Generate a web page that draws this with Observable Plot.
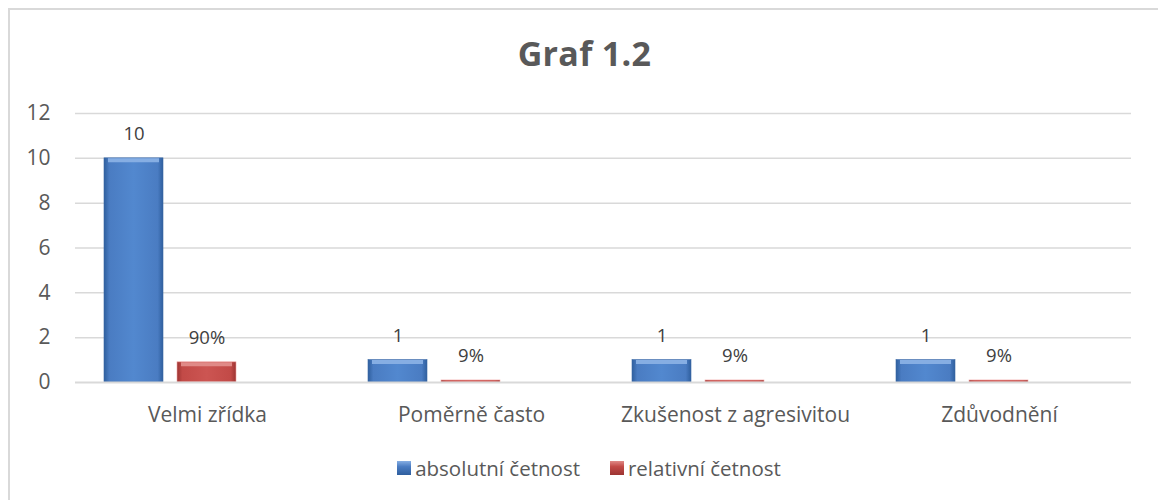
<!DOCTYPE html>
<html>
<head>
<meta charset="utf-8">
<script src="https://cdn.jsdelivr.net/npm/d3@7"></script>
<script src="https://cdn.jsdelivr.net/npm/@observablehq/plot@0.6"></script>
<style>
  html, body { margin: 0; padding: 0; background: #fff; }
  #wrap { position: relative; width: 1158px; height: 500px; overflow: hidden; font-family: "Open Sans", sans-serif; color: #595959; }
  #border { position: absolute; left: 8px; top: 8px; width: 1160px; height: 500px; border-left: 2px solid #d9d9d9; border-top: 2px solid #d9d9d9; box-sizing: border-box; }
  #title { position: absolute; left: 0; width: 1169px; top: 33px; text-align: center; font-size: 34px; line-height: 40px; font-weight: 700; color: #595959; letter-spacing: 0.3px; }
  #chart { position: absolute; left: 0; top: 0; }
  #legend { position: absolute; left: 0; width: 1178px; top: 455px; line-height: 24px; text-align: center; font-size: 20.5px; color: #595959; }
  .item { display: inline-flex; align-items: center; margin: 0 15px; }
  .sw { width: 14px; height: 14px; margin-right: 4px; display: inline-block; box-sizing: border-box; }
</style>
</head>
<body>
<div id="wrap">
  <div id="border"></div>
  <div id="title">Graf 1.2</div>
  <div id="chart"></div>
  <div id="legend"></div>
</div>
<script>
const categories = ["Velmi zřídka", "Poměrně často", "Zkušenost z agresivitou", "Zdůvodnění"];
const series = ["absolutní četnost", "relativní četnost"];
const absolutni = [10, 1, 1, 1];
const relativni = [0.9, 0.09, 0.09, 0.09];
const absLabels = ["10", "1", "1", "1"];
const relLabels = ["90%", "9%", "9%", "9%"];
const yTicks = [0, 2, 4, 6, 8, 10, 12];
const slots = [...series, "(prázdné)"]; // Excel cluster has an empty third slot

const data = [];
categories.forEach((c, i) => {
  data.push({category: c, series: series[0], value: absolutni[i], label: absLabels[i]});
  data.push({category: c, series: series[1], value: relativni[i], label: relLabels[i]});
});
const absData = data.filter(d => d.series === series[0]);
const relData = data.filter(d => d.series === series[1]);

function defs() {
  const ns = "http://www.w3.org/2000/svg";
  const g = document.createElementNS(ns, "defs");
  g.innerHTML = `
    <linearGradient id="gBlue" x1="0" x2="1" y1="0" y2="0">
      <stop offset="0" stop-color="#2f5f9e"/>
      <stop offset="0.09" stop-color="#4a7cc2"/>
      <stop offset="0.5" stop-color="#5288cf"/>
      <stop offset="0.91" stop-color="#4a7cc2"/>
      <stop offset="1" stop-color="#2f5f9e"/>
    </linearGradient>
    <linearGradient id="gRed" x1="0" x2="1" y1="0" y2="0">
      <stop offset="0" stop-color="#9c3432"/>
      <stop offset="0.09" stop-color="#c24a47"/>
      <stop offset="0.5" stop-color="#cc5552"/>
      <stop offset="0.91" stop-color="#c24a47"/>
      <stop offset="1" stop-color="#9c3432"/>
    </linearGradient>`;
  return g;
}

const chart = Plot.plot({
  width: 1158,
  height: 430,
  marginLeft: 73,
  marginRight: 26,
  marginTop: 113,
  marginBottom: 48,
  style: {fontFamily: "'Open Sans', sans-serif", fontSize: "21px", color: "#595959", background: "transparent"},
  fx: {domain: categories, padding: 0, axis: "bottom", tickSize: 0, tickPadding: 25, label: null},
  x: {domain: slots, paddingInner: 0.189, paddingOuter: 0.383, axis: null},
  y: {domain: [0, 12], ticks: yTicks, tickSize: 0, tickPadding: 25, label: null, tickFormat: d => String(d)},
  marks: [
    defs,
    Plot.ruleY(yTicks.filter(t => t > 0), {stroke: "#d9d9d9", strokeWidth: 1.5}),
    Plot.barY(absData, {fx: "category", x: "series", y: "value", fill: "url(#gBlue)", stroke: "#3a68a6", strokeWidth: 0.6}),
    Plot.tickY(absData, {fx: "category", x: "series", y: "value", stroke: "#86aee3", strokeWidth: 4, dy: 2, insetLeft: 4, insetRight: 4}),
    Plot.barY(relData, {fx: "category", x: "series", y: "value", fill: "url(#gRed)", stroke: "#f2a3a1", strokeWidth: 0.6}),
    Plot.tickY(relData.filter(d => d.value >= 0.5), {fx: "category", x: "series", y: "value", stroke: "#e08a87", strokeWidth: 4, dy: 2, insetLeft: 4, insetRight: 4}),
    Plot.ruleY([0], {stroke: "#d9d9d9", strokeWidth: 2}),
    Plot.text(data, {fx: "category", x: "series", y: "value", text: "label", lineAnchor: "bottom", dy: -18, fill: "#404040", fontSize: 18.5})
  ]
});
document.getElementById("chart").appendChild(chart);

const legend = document.getElementById("legend");
const swatches = {"absolutní četnost": "linear-gradient(#86aee3, #4a7cc2 40%, #2f5f9e)", "relativní četnost": "linear-gradient(#e08a87, #c24a47 40%, #9c3432)"};
series.forEach(s => {
  const item = document.createElement("span");
  item.className = "item";
  const sw = document.createElement("span");
  sw.className = "sw";
  sw.style.background = swatches[s];
  const t = document.createElement("span");
  t.textContent = s;
  item.appendChild(sw);
  item.appendChild(t);
  legend.appendChild(item);
});
</script>
</body>
</html>
